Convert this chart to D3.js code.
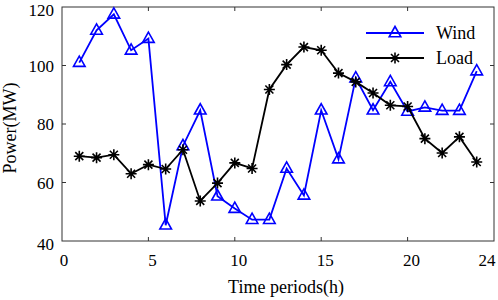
<!DOCTYPE html>
<html>
<head>
  <script src="https://cdn.jsdelivr.net/npm/d3@7"></script>
  <style>
    body { margin: 0; background: #fff; }
    text { font-family: "Liberation Serif", "Times New Roman", serif; fill: #000; }
  </style>
</head>
<body>
  <div id="chart"></div>
  <script>
    const hours = d3.range(1, 25);
    const wind = [101, 112, 117.5, 105.2, 109.2, 45.4, 72.5, 84.7, 55.3, 51.1, 47.3, 47.3,
                  64.8, 55.6, 84.7, 68, 95.7, 84.7, 94.4, 84.3, 85.7, 84.6, 84.6, 98.1];
    const load = [69, 68.5, 69.5, 63, 66.1, 64.6, 71.2, 53.7, 59.8, 66.7, 64.8, 91.8,
                  100.3, 106.3, 105.2, 97.4, 94.4, 90.6, 86.4, 86, 75, 70.1, 75.6, 67];
    const xTicks = [0, 5, 10, 15, 20, 25];
    const xTickLabels = ["0", "5", "10", "15", "20", "24"];
    const yTicks = [40, 60, 80, 100, 120];

    const W = 498, H = 300;
    const m = { left: 62, top: 7, right: 4, bottom: 59 };
    const iw = W - m.left - m.right, ih = H - m.top - m.bottom;

    const svg = d3.select("#chart").append("svg")
      .attr("width", W).attr("height", H);
    const g = svg.append("g").attr("transform", `translate(${m.left},${m.top})`);

    const x = d3.scaleLinear().domain([0, 25]).range([0, iw]);
    const y = d3.scaleLinear().domain([40, 120]).range([ih, 0]);

    // ticks, inward on all four sides
    const tl = 4;
    xTicks.slice(1, -1).forEach(t => {
      g.append("line").attr("x1", x(t)).attr("x2", x(t)).attr("y1", ih).attr("y2", ih - tl)
        .attr("stroke", "#333");
      g.append("line").attr("x1", x(t)).attr("x2", x(t)).attr("y1", 0).attr("y2", tl)
        .attr("stroke", "#333");
    });
    yTicks.slice(1, -1).forEach(t => {
      g.append("line").attr("x1", 0).attr("x2", tl).attr("y1", y(t)).attr("y2", y(t))
        .attr("stroke", "#333");
      g.append("line").attr("x1", iw).attr("x2", iw - tl).attr("y1", y(t)).attr("y2", y(t))
        .attr("stroke", "#333");
    });
    g.append("rect").attr("width", iw).attr("height", ih)
      .attr("fill", "none").attr("stroke", "#333").attr("stroke-width", 1);

    // tick labels
    g.selectAll(".xl").data(xTicks).enter().append("text")
      .attr("x", (d, i) => x(d) + (i === xTicks.length - 1 ? -7 : (i === 0 ? 2 : 4)))
      .attr("y", ih + 25)
      .attr("text-anchor", "middle")
      .attr("font-size", 17)
      .text((d, i) => xTickLabels[i]);
    g.selectAll(".yl").data(yTicks).enter().append("text")
      .attr("x", -8)
      .attr("y", (d, i) => y(d) + (i === yTicks.length - 1 ? 9 : (i === 0 ? 9 : 6)))
      .attr("text-anchor", "end")
      .attr("font-size", 17)
      .text(d => d);

    // axis titles
    g.append("text").attr("x", iw / 2 + 8).attr("y", ih + 52)
      .attr("text-anchor", "middle").attr("font-size", 18).text("Time periods(h)");
    g.append("text").attr("transform", `translate(${-46},${ih / 2 + 4}) rotate(-90)`)
      .attr("text-anchor", "middle").attr("font-size", 18).text("Power(MW)");

    const line = d3.line().x((d, i) => x(hours[i])).y(d => y(d));
    const tri = "M0,-6.5L5.8,3.8L-5.8,3.8Z";
    const star = "M-5.5,0L5.5,0M0,-5.5L0,5.5M-4,-4L4,4M-4,4L4,-4";

    // wind
    g.append("path").datum(wind).attr("d", line)
      .attr("fill", "none").attr("stroke", "#0000ff").attr("stroke-width", 1.8);
    g.selectAll(".tri").data(wind).enter().append("path")
      .attr("transform", (d, i) => `translate(${x(hours[i])},${y(d)})`)
      .attr("d", tri).attr("fill", "none").attr("stroke", "#0000ff").attr("stroke-width", 1.6);

    // load
    g.append("path").datum(load).attr("d", line)
      .attr("fill", "none").attr("stroke", "#000").attr("stroke-width", 1.8);
    g.selectAll(".star").data(load).enter().append("path")
      .attr("transform", (d, i) => `translate(${x(hours[i])},${y(d)})`)
      .attr("d", star).attr("fill", "none").attr("stroke", "#000").attr("stroke-width", 1.6);

    // legend
    const lg = svg.append("g");
    const items = [
      { name: "Wind", color: "#0000ff", marker: tri, y: 33 },
      { name: "Load", color: "#000", marker: star, y: 58 }
    ];
    items.forEach(it => {
      lg.append("line").attr("x1", 366).attr("x2", 424).attr("y1", it.y).attr("y2", it.y)
        .attr("stroke", it.color).attr("stroke-width", 1.8);
      lg.append("path").attr("transform", `translate(395,${it.y})`).attr("d", it.marker)
        .attr("fill", "none").attr("stroke", it.color).attr("stroke-width", 1.6);
      lg.append("text").attr("x", 436).attr("y", it.y + 6).attr("font-size", 18).text(it.name);
    });
  </script>
</body>
</html>
